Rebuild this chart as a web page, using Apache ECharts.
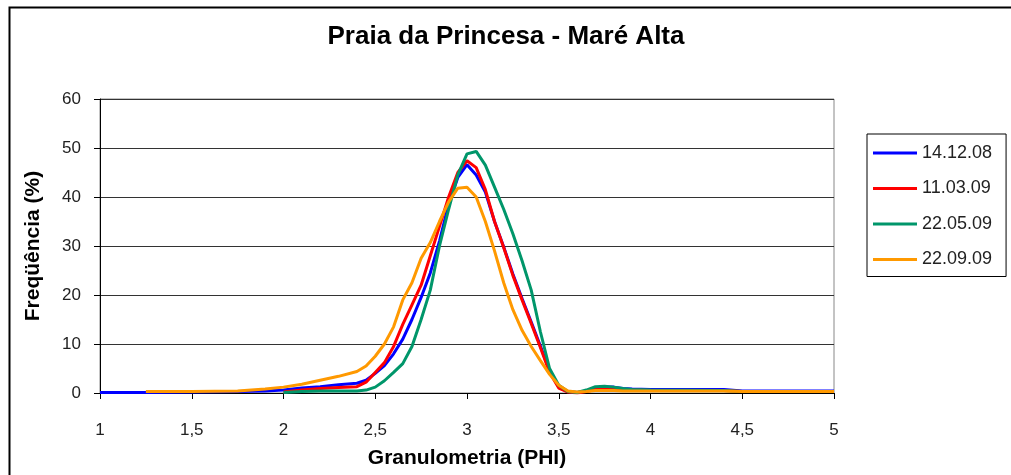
<!DOCTYPE html>
<html>
<head>
<meta charset="utf-8">
<script src="https://cdn.jsdelivr.net/npm/echarts@6/dist/echarts.min.js"></script>
<style>
  html, body { margin: 0; padding: 0; background: #fff; }
  #chart { width: 1011px; height: 475px; }
</style>
</head>
<body>
<div id="chart"></div>
<script>
// granulometria (PHI) sample points
var phi = [1, 1.25, 1.5, 1.75, 1.9, 2, 2.1, 2.2, 2.3, 2.4, 2.45, 2.5, 2.55, 2.6, 2.65, 2.7, 2.75, 2.8, 2.85, 2.9, 2.95,
  3, 3.05, 3.1, 3.15, 3.2, 3.25, 3.3, 3.35, 3.4, 3.45, 3.5, 3.55, 3.6, 3.65, 3.7, 3.75, 3.8, 3.85, 3.9, 4, 4.4, 4.5, 5];

var s141208 = [0.1, 0.1, 0.2, 0.3, 0.4, 0.6, 1.0, 1.3, 1.7, 2.0, 2.6, 4.0, 5.6, 8.0, 11.0, 15.0, 19.5, 24.5, 31.0, 38.5, 44.0,
  46.6, 44.5, 41.0, 35.0, 29.8, 24.3, 19.3, 14.5, 9.6, 4.5, 1.2, 0.3, 0.1, 0.4, 0.9, 1.2, 1.2, 0.9, 0.8, 0.7, 0.7, 0.4, 0.4];
var s110309 = [null, null, null, null, null, 0.2, 0.6, 0.9, 1.1, 1.3, 2.2, 4.2, 6.2, 9.5, 14.0, 18.0, 22.0, 28.0, 34.0, 40.0, 45.0,
  47.4, 46.0, 41.5, 35.0, 29.7, 24.0, 19.0, 14.2, 9.3, 4.2, 1.0, 0.2, 0.0, 0.3, 0.7, 0.9, 0.9, 0.7, 0.6, 0.5, 0.5, 0.3, 0.3];
var s220509 = [null, null, null, null, null, 0.1, 0.3, 0.4, 0.4, 0.4, 0.6, 1.2, 2.5, 4.2, 6.0, 9.5, 15.0, 21.0, 30.0, 37.5, 44.5,
  48.8, 49.3, 46.5, 42.0, 37.5, 32.5, 27.0, 21.0, 12.5, 5.0, 1.6, 0.3, 0.1, 0.6, 1.3, 1.4, 1.2, 0.9, 0.7, 0.6, 0.5, 0.3, 0.3];
var s220909 = [null, 0.3, 0.3, 0.4, 0.8, 1.2, 1.8, 2.6, 3.4, 4.4, 5.5, 7.5, 10.0, 13.5, 19.0, 22.5, 27.5, 30.7, 35.0, 39.0, 41.8,
  42.0, 40.0, 35.0, 29.0, 22.5, 17.0, 12.8, 9.5, 6.6, 3.8, 1.6, 0.4, 0.2, 0.3, 0.5, 0.5, 0.5, 0.4, 0.4, 0.4, 0.4, 0.3, 0.3];

var names = ["14.12.08", "11.03.09", "22.05.09", "22.09.09"];
var colors = ["#0000ff", "#ff0000", "#00966a", "#ff9900"];
var values = [s141208, s110309, s220509, s220909];

function pairs(vals) {
  var out = [];
  for (var i = 0; i < phi.length; i++) {
    if (vals[i] != null) out.push([phi[i], vals[i]]);
  }
  return out;
}

var chart = echarts.init(document.getElementById("chart"));

var series = names.map(function (n, i) {
  return {
    name: n,
    type: "line",
    data: pairs(values[i]),
    showSymbol: false,
    symbol: "none",
    lineStyle: { color: colors[i], width: 3 },
    itemStyle: { color: colors[i] },
    animation: false,
  };
});

var option = {
  animation: false,
  title: {
    text: "Praia da Princesa - Maré Alta",
    left: 501,
    top: 19,
    textAlign: "center",
    textStyle: { fontFamily: "Liberation Sans", fontWeight: "bold", fontSize: 26, color: "#000" },
  },
  grid: {
    left: 100,
    right: 177,
    top: 99,
    bottom: 82,
    show: true,
    borderColor: "#888",
    borderWidth: 1,
  },
  legend: {
    data: names,
    orient: "vertical",
    left: 867,
    top: 134,
    padding: [10, 14, 8, 6],
    itemGap: 17.5,
    itemWidth: 44,
    itemHeight: 3,
    icon: "rect",
    borderColor: "#000",
    borderWidth: 1,
    textStyle: { fontFamily: "Liberation Sans", fontSize: 18, lineHeight: 18, color: "#222" },
  },
  xAxis: {
    type: "value",
    min: 1,
    max: 5,
    interval: 0.5,
    name: "Granulometria (PHI)",
    nameLocation: "middle",
    nameGap: 55,
    nameTextStyle: { fontFamily: "Liberation Sans", fontWeight: "bold", fontSize: 21, color: "#000" },
    axisLine: { lineStyle: { color: "#000", width: 1 } },
    axisTick: { show: true, length: 6, lineStyle: { color: "#000" } },
    axisLabel: {
      margin: 29,
      fontFamily: "Liberation Sans",
      fontSize: 17,
      color: "#222",
      formatter: function (v) { return String(v).replace(".", ","); },
    },
    splitLine: { show: false },
  },
  yAxis: {
    type: "value",
    min: 0,
    max: 60,
    interval: 10,
    name: "Freqüência (%)",
    nameLocation: "middle",
    nameGap: 56,
    nameTextStyle: { fontFamily: "Liberation Sans", fontWeight: "bold", fontSize: 21, color: "#000" },
    axisLine: { show: true, lineStyle: { color: "#000", width: 1 } },
    axisTick: { show: true, length: 6, lineStyle: { color: "#000" } },
    axisLabel: { margin: 19, fontFamily: "Liberation Sans", fontSize: 17, color: "#222" },
    splitLine: { show: true, lineStyle: { color: "#333", width: 1 } },
  },
  graphic: [
    {
      type: "rect",
      left: 7,
      top: 5,
      shape: { width: 1040, height: 520 },
      style: { fill: "none", stroke: "#000", lineWidth: 2 },
      silent: true,
    },
  ],
  series: series,
};

chart.setOption(option);
</script>
</body>
</html>
